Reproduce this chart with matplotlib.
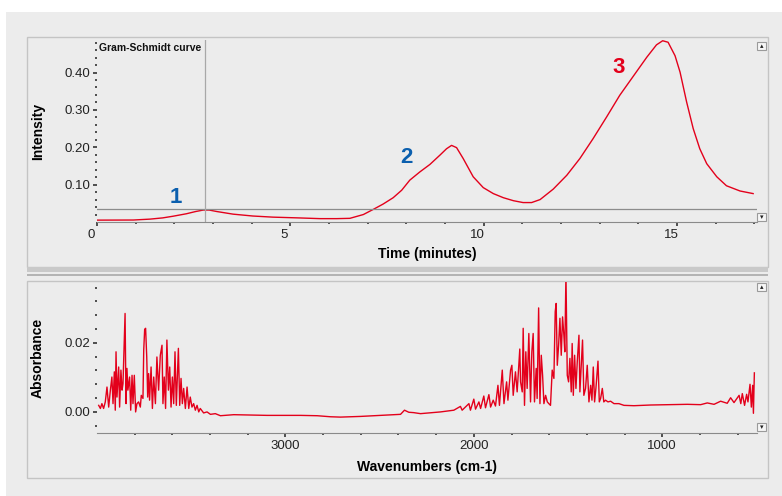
import matplotlib
matplotlib.use("Agg")
import matplotlib.pyplot as plt
from matplotlib.patches import Rectangle
from matplotlib.ticker import FixedLocator, FormatStrFormatter
import matplotlib.transforms as mtransforms

plt.rcParams['font.family'] = ['Liberation Sans', 'DejaVu Sans']

# Gram-Schmidt curve (time in minutes, intensity)
gs_time = [0.0, 0.94, 1.37, 1.7, 1.97, 2.31, 2.55, 2.75, 2.9, 3.1, 3.52, 4.03, 4.55,
           5.2, 5.77, 6.2, 6.54, 6.89, 7.15, 7.40, 7.66, 7.88, 8.09, 8.35, 8.61,
           8.87, 9.04, 9.17, 9.30, 9.47, 9.73, 9.99, 10.25, 10.51, 10.77, 11.02,
           11.24, 11.46, 11.80, 12.15, 12.49, 12.83, 13.18, 13.52, 13.87, 14.22,
           14.47, 14.63, 14.77, 14.95, 15.08, 15.25, 15.42, 15.59, 15.77, 16.03,
           16.28, 16.63, 16.97]
gs_intensity = [0.005, 0.0053, 0.0077, 0.011, 0.0155, 0.022, 0.028, 0.032, 0.032,
                0.028, 0.021, 0.016, 0.013, 0.011, 0.009, 0.009, 0.0098, 0.020,
                0.034, 0.048, 0.065, 0.085, 0.112, 0.134, 0.154, 0.179, 0.196,
                0.205, 0.199, 0.170, 0.121, 0.092, 0.076, 0.065, 0.057, 0.052,
                0.052, 0.060, 0.088, 0.125, 0.170, 0.223, 0.281, 0.339, 0.390,
                0.441, 0.474, 0.485, 0.481, 0.445, 0.401, 0.321, 0.250, 0.196,
                0.156, 0.121, 0.097, 0.083, 0.076]
cursor_time = 2.8
cursor_level = 0.035
peak_labels = ['1', '2', '3']
peak_pos = [(2.05, 0.065), (8.0, 0.172), (13.5, 0.413)]

# IR spectrum (wavenumber cm-1, absorbance)
wavenumber = [
    3991, 3982, 3974, 3965, 3956, 3947, 3938, 3929, 3921, 3915, 3908, 3903, 3899,
    3894, 3885, 3880, 3873, 3867, 3862, 3851, 3846, 3841, 3836, 3827, 3821, 3814,
    3809, 3802, 3795, 3788, 3779, 3770, 3765, 3756, 3752, 3747, 3742, 3736, 3731,
    3726, 3721, 3713, 3706, 3699, 3690, 3682, 3673, 3664, 3655, 3650, 3643, 3636,
    3629, 3621, 3614, 3607, 3600, 3593, 3586, 3579, 3568, 3561, 3554, 3547, 3540,
    3531, 3522, 3513, 3505, 3496, 3487, 3478, 3469, 3460, 3452, 3434, 3416, 3398,
    3372, 3345, 3274, 3097, 2920, 2831, 2761, 2708, 2601, 2460, 2389, 2368, 2345,
    2320, 2283, 2177, 2106, 2071, 2062, 2026, 2018, 2000, 1991, 1973, 1964, 1947,
    1938, 1920, 1911, 1897, 1885, 1872, 1864, 1849, 1840, 1826, 1819, 1805, 1798,
    1791, 1779, 1770, 1756, 1752, 1743, 1738, 1731, 1724, 1717, 1708, 1699, 1692,
    1685, 1678, 1669, 1664, 1656, 1649, 1642, 1635, 1628, 1619, 1610, 1602, 1593,
    1584, 1575, 1568, 1563, 1557, 1550, 1543, 1536, 1529, 1522, 1517, 1511, 1504,
    1497, 1490, 1483, 1478, 1472, 1465, 1458, 1451, 1442, 1437, 1430, 1423, 1416,
    1407, 1398, 1389, 1380, 1373, 1366, 1359, 1352, 1341, 1334, 1327, 1318, 1310,
    1301, 1288, 1274, 1256, 1230, 1203, 1150, 1062, 973, 867, 796, 761, 725, 690,
    655, 637, 619, 592, 583, 575, 563, 552, 545, 534, 527, 520, 516, 511]
absorbance = [
    0.0019, 0.0010, 0.0024, 0.0010, 0.0029, 0.0072, 0.0014, 0.0063, 0.0101, 0.0024,
    0.0116, 0.0005, 0.0174, 0.0043, 0.0130, 0.0014, 0.0121, 0.0063, 0.0082, 0.0285,
    0.0024, 0.0126, 0.0063, 0.0101, 0.0005, 0.0106, 0.0024, 0.0106, 0.0000, 0.0024,
    0.0029, 0.0014, 0.0048, 0.0039, 0.0179, 0.0239, 0.0242, 0.0159, 0.0043, 0.0111,
    0.0034, 0.0130, 0.0010, 0.0101, 0.0024, 0.0159, 0.0063, 0.0164, 0.0193, 0.0024,
    0.0101, 0.0010, 0.0208, 0.0063, 0.0130, 0.0014, 0.0101, 0.0024, 0.0174, 0.0019,
    0.0184, 0.0019, 0.0097, 0.0024, 0.0068, 0.0010, 0.0072, 0.0010, 0.0043, 0.0014,
    0.0024, 0.0005, 0.0019, 0.0000, 0.0010, -0.0003, 0.0000, -0.0007, -0.0005, -0.0011,
    -0.0008, -0.0010, -0.0010, -0.0011, -0.0014, -0.0015, -0.0013, -0.0009, -0.0007,
    0.0005, -0.0001, -0.0002, -0.0005, 0.0000, 0.0005, 0.0016, 0.0005, 0.0024, 0.0005,
    0.0037, 0.0008, 0.0029, 0.0010, 0.0046, 0.0012, 0.0050, 0.0014, 0.0034, 0.0017,
    0.0077, 0.0019, 0.0121, 0.0024, 0.0087, 0.0034, 0.0121, 0.0135, 0.0048, 0.0116,
    0.0058, 0.0182, 0.0087, 0.0058, 0.0242, 0.0019, 0.0174, 0.0068, 0.0227, 0.0029,
    0.0174, 0.0227, 0.0029, 0.0126, 0.0039, 0.0301, 0.0024, 0.0164, 0.0106, 0.0024,
    0.0048, 0.0029, 0.0024, 0.0019, 0.0121, 0.0097, 0.0290, 0.0314, 0.0135, 0.0193,
    0.0271, 0.0164, 0.0275, 0.0222, 0.0174, 0.0400, 0.0106, 0.0087, 0.0155, 0.0058,
    0.0198, 0.0048, 0.0164, 0.0068, 0.0145, 0.0222, 0.0058, 0.0135, 0.0208, 0.0048,
    0.0068, 0.0135, 0.0029, 0.0077, 0.0034, 0.0130, 0.0029, 0.0068, 0.0147, 0.0029,
    0.0039, 0.0068, 0.0029, 0.0034, 0.0029, 0.0031, 0.0024, 0.0024, 0.0019, 0.0018,
    0.0020, 0.0021, 0.0022, 0.0021, 0.0026, 0.0022, 0.0031, 0.0025, 0.0041, 0.0027,
    0.0048, 0.0024, 0.0053, 0.0019, 0.0051, 0.0029, 0.0080, 0.0014, 0.0077, -0.0004,
    0.0113]

W, H = 782, 496
RED = '#e3001b'
BLUE = '#0b5fae'
PANEL = '#ececec'
FRAME = '#c4c4c4'


def px_box(x0, y0, x1, y1):
    # pixel box (top-left origin) -> figure fraction rect
    return [x0 / W, 1 - y1 / H, (x1 - x0) / W, (y1 - y0) / H]


fig = plt.figure(figsize=(W / 100, H / 100), dpi=100, facecolor='white')


def add_rect(x0, y0, x1, y1, fc, ec='none', lw=0.0, z=-10):
    b = px_box(x0, y0, x1, y1)
    fig.patches.append(Rectangle((b[0], b[1]), b[2], b[3], transform=fig.transFigure,
                                 facecolor=fc, edgecolor=ec, linewidth=lw, zorder=z))


# window background and frames
add_rect(6, 12, 782, 496, PANEL, z=-20)
add_rect(27, 37, 768, 267, PANEL, FRAME, 1.0)
add_rect(27, 267, 768, 272, '#c9c9c9')
add_rect(27, 274, 768, 276, '#b4b4b4')
add_rect(27, 281, 768, 478, PANEL, FRAME, 1.0)


def style_axes(ax):
    ax.set_facecolor('none')
    for s in ['top', 'right', 'left']:
        ax.spines[s].set_visible(False)
    ax.spines['bottom'].set_color('#8a8a8a')
    ax.spines['bottom'].set_linewidth(0.8)
    ax.tick_params(which='major', direction='out', length=3, width=1.2,
                   color='#333333', labelsize=9.5, labelcolor='#222222', pad=2)
    ax.tick_params(which='minor', direction='out', length=1.5, width=1.2, color='#333333')


def scroll_buttons(y_top, y_bot):
    for yb, mark in [(y_top, '\u25b4'), (y_bot, '\u25be')]:
        add_rect(757, yb, 766, yb + 8, '#f6f6f6', '#9a9a9a', 0.8, z=5)
        fig.text((761.5) / W, 1 - (yb + 4) / H, mark, fontsize=5, ha='center',
                 va='center', color='#222222', family='DejaVu Sans', zorder=6)


# --- Gram-Schmidt chromatogram ---
ax1 = fig.add_axes(px_box(97, 40, 757, 222))
style_axes(ax1)
ax1.plot(gs_time, gs_intensity, color=RED, lw=1.0)
ax1.axhline(cursor_level, color='#8c8c8c', lw=0.9)
ax1.axvline(cursor_time, color='#a8a8a8', lw=0.9)
ax1.set_xlim(0, 17.07)
ax1.set_ylim(0, 0.487)
ax1.xaxis.set_major_locator(FixedLocator([0, 5, 10, 15]))
ax1.xaxis.set_minor_locator(FixedLocator([1, 2, 3, 4, 6, 7, 8, 9, 11, 12, 13, 14, 16, 17]))
ax1.yaxis.set_major_locator(FixedLocator([0.1, 0.2, 0.3, 0.4]))
ax1.yaxis.set_minor_locator(FixedLocator([i * 0.02 for i in range(1, 25)]))
ax1.yaxis.set_major_formatter(FormatStrFormatter('%.2f'))
shift = mtransforms.ScaledTranslation(-6 / 100, 0, fig.dpi_scale_trans)
for lab in ax1.get_xticklabels():
    lab.set_transform(lab.get_transform() + shift)
ax1.set_xlabel('Time (minutes)', fontsize=10, fontweight='bold', labelpad=3)
ax1.set_ylabel('Intensity', fontsize=10, fontweight='bold', labelpad=8)
ax1.text(0.04, 0.478, 'Gram-Schmidt curve', fontsize=7.5, fontweight='bold',
         va='top', ha='left', color='#111111')
for lab, (tx, ty), col in zip(peak_labels, peak_pos, [BLUE, BLUE, RED]):
    ax1.text(tx, ty, lab, fontsize=16, fontweight='bold', color=col,
             ha='center', va='center')
ax1.xaxis.set_label_coords(0.5, -0.14)
ax1.yaxis.set_label_coords(-0.079, 0.5)
scroll_buttons(42, 213)

# --- IR spectrum ---
ax2 = fig.add_axes(px_box(97, 282, 757, 433))
style_axes(ax2)
ax2.plot(wavenumber, absorbance, color=RED, lw=1.0)
ax2.set_xlim(4000, 497)
ax2.set_ylim(-0.0061, 0.0376)
ax2.xaxis.set_major_locator(FixedLocator([3000, 2000, 1000]))
ax2.xaxis.set_minor_locator(FixedLocator([3800, 3600, 3400, 3200, 2800, 2600, 2400,
                                          2200, 1800, 1600, 1400, 1200, 800, 600]))
ax2.yaxis.set_major_locator(FixedLocator([0.0, 0.02]))
ax2.yaxis.set_minor_locator(FixedLocator([i * 0.004 for i in range(-1, 10)]))
ax2.yaxis.set_major_formatter(FormatStrFormatter('%.2f'))
ax2.set_xlabel('Wavenumbers (cm-1)', fontsize=10, fontweight='bold')
ax2.set_ylabel('Absorbance', fontsize=10, fontweight='bold')
ax2.xaxis.set_label_coords(0.5, -0.18)
ax2.yaxis.set_label_coords(-0.079, 0.5)
scroll_buttons(283, 423)

fig.savefig('out.png', dpi=100, facecolor=fig.get_facecolor())
